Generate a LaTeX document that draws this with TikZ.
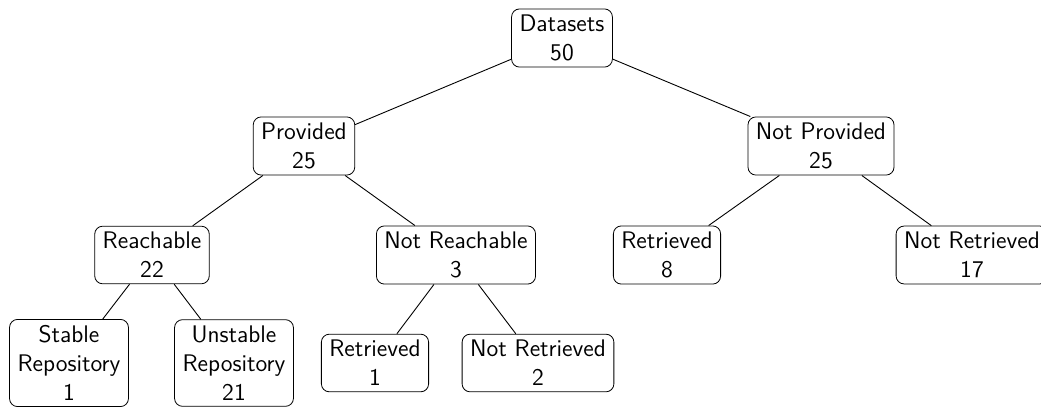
\documentclass[tikz,border=0pt]{standalone}
\renewcommand{\familydefault}{\sfdefault}
\begin{document}
\begin{tikzpicture}[x=0.5pt,y=-0.5pt,
  box/.style={draw,rounded corners=4pt,align=center,inner xsep=4pt,inner ysep=3pt,font=\fontsize{12}{14.5}\selectfont\sffamily},
  edge/.style={draw,line width=0.45pt}]
\useasboundingbox (0,0) rectangle (1041,408);
\clip (0,0) rectangle (1041,408);
\node[box] (ds) at (562,38) {Datasets\\50};
\node[box] (pr) at (304,146) {Provided\\25};
\node[box] (np) at (821,146) {Not Provided\\25};
\node[box] (re) at (152,255) {Reachable\\22};
\node[box] (nr) at (456,255) {Not Reachable\\3};
\node[box] (rt) at (667,255) {Retrieved\\8};
\node[box] (nrt) at (972,255) {Not Retrieved\\17};
\node[box] (sr) at (69,363) {Stable\\Repository\\1};
\node[box] (ur) at (234,363) {Unstable\\Repository\\21};
\node[box] (rt2) at (375,363) {Retrieved\\1};
\node[box] (nrt2) at (538,363) {Not Retrieved\\2};
\path[edge] (ds) -- (pr);
\path[edge] (ds) -- (np);
\path[edge] (pr) -- (re);
\path[edge] (pr) -- (nr);
\path[edge] (np) -- (rt);
\path[edge] (np) -- (nrt);
\path[edge] (re) -- (sr);
\path[edge] (re) -- (ur);
\path[edge] (nr) -- (rt2);
\path[edge] (nr) -- (nrt2);
\end{tikzpicture}
\end{document}
